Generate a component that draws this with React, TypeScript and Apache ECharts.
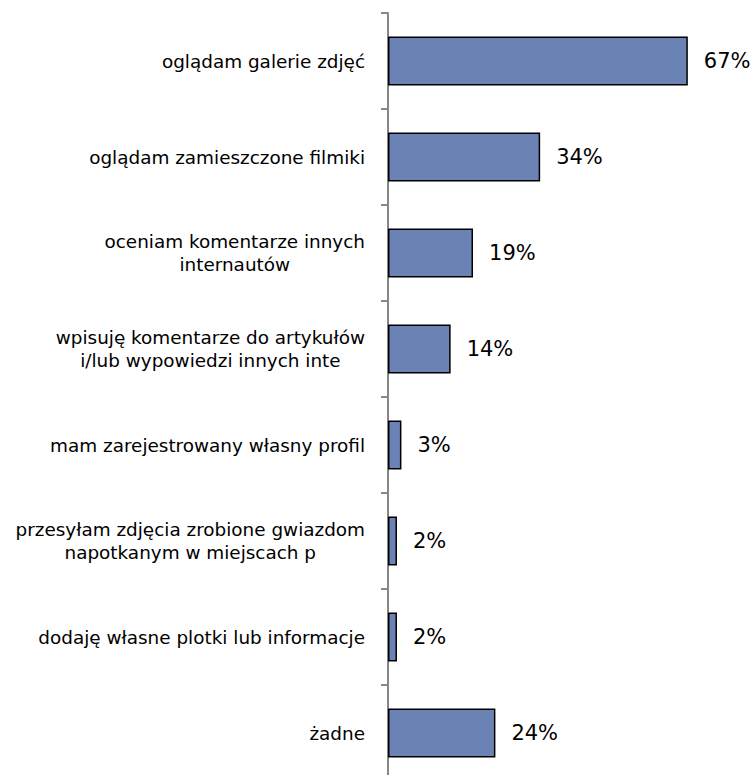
import React, { useEffect, useRef } from "react";
import * as echarts from "echarts";

// Survey answers (top to bottom) and the share of respondents for each
const categories: string[] = [
  "oglądam galerie zdjęć",
  "oglądam zamieszczone filmiki",
  "oceniam komentarze innych\ninternautów",
  "wpisuję komentarze do artykułów\ni/lub wypowiedzi innych inte",
  "mam zarejestrowany własny profil",
  "przesyłam zdjęcia zrobione gwiazdom\nnapotkanym w miejscach p",
  "dodaję własne plotki lub informacje",
  "żadne",
];
const shares: number[] = [67, 34, 19, 14, 3, 2, 2, 24];

const AXIS_MAX = 80;

export default function App() {
  const ref = useRef<HTMLDivElement>(null);

  useEffect(() => {
    if (!ref.current) return;
    const chart = echarts.init(ref.current, undefined, { renderer: "svg" });
    chart.setOption({
      animation: false,
      backgroundColor: "#ffffff",
      grid: { left: 388, top: 13, height: 768, width: 358 },
      xAxis: {
        type: "value",
        min: 0,
        max: AXIS_MAX,
        show: false,
      },
      yAxis: {
        type: "category",
        inverse: true,
        data: categories,
        axisLine: { show: true, lineStyle: { color: "#878787", width: 2 } },
        axisTick: {
          show: true,
          interval: 0,
          length: 7,
          lineStyle: { color: "#878787", width: 2 },
        },
        axisLabel: {
          interval: 0,
          margin: 23,
          fontFamily: "DejaVu Sans",
          fontSize: 18.4,
          color: "#000000",
          lineHeight: 23,
          formatter: (v: string) =>
            v
              .split("\n")
              .map((line) => `{c|${line}}`)
              .join("\n"),
          rich: {
            c: {
              align: "center",
              fontFamily: "DejaVu Sans",
              fontSize: 18.4,
              color: "#000000",
              lineHeight: 23,
            },
          },
        },
        splitLine: { show: false },
      },
      series: [
        {
          type: "bar",
          data: shares,
          barWidth: 49,
          itemStyle: {
            color: "#6b83b4",
            borderColor: "#000000",
            borderWidth: 1.5,
          },
          label: {
            show: true,
            position: "right",
            distance: 16,
            formatter: "{c}%",
            fontFamily: "DejaVu Sans",
            fontSize: 21,
            color: "#000000",
          },
        },
      ],
    });
    return () => chart.dispose();
  }, []);

  return (
    <div
      ref={ref}
      style={{ position: "fixed", left: 0, top: 0, width: 756, height: 800, background: "#fff" }}
    />
  );
}
